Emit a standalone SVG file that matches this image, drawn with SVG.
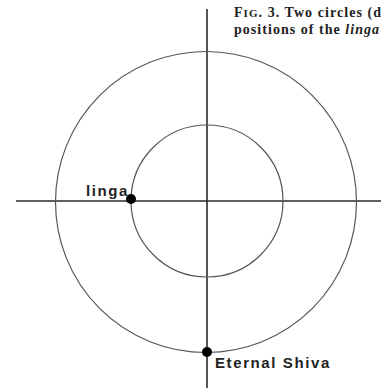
<svg xmlns="http://www.w3.org/2000/svg" width="381" height="390" viewBox="0 0 381 390">
<style>
.axis{stroke:#2a2a2a;stroke-width:1.6;fill:none}
.circ{stroke:#555;stroke-width:1.2;fill:none}
.dot{fill:#000}
.lbl{font-family:"Liberation Sans",Arial,sans-serif;font-size:15px;font-weight:bold;fill:#222;letter-spacing:1.6px}
.cap{font-family:"Liberation Serif","Times New Roman",serif;font-size:14px;font-weight:bold;fill:#222}
</style>
<rect width="381" height="390" fill="#fff"/>
<g id="caption">
<text class="cap" x="234" y="17" textLength="147" lengthAdjust="spacing">F<tspan font-size="11">IG</tspan>. 3. Two circles (d</text>
<text class="cap" x="234" y="34" textLength="145" lengthAdjust="spacing">positions of the <tspan font-style="italic">linga</tspan></text>
</g>
<g id="connectors">
<line class="axis" x1="16" y1="201" x2="381" y2="201"/>
<line class="axis" x1="207" y1="9" x2="207" y2="388"/>
</g>
<g id="outer-circle"><circle class="circ" cx="206" cy="202" r="150.5"/></g>
<g id="inner-circle"><circle class="circ" cx="207" cy="201" r="76"/></g>
<g id="linga">
<circle class="dot" cx="131" cy="199" r="5"/>
<text class="lbl" x="86" y="196">linga</text>
</g>
<g id="eternal-shiva">
<circle class="dot" cx="207" cy="352" r="5"/>
<text class="lbl" x="215" y="368">Eternal Shiva</text>
</g>
</svg>
